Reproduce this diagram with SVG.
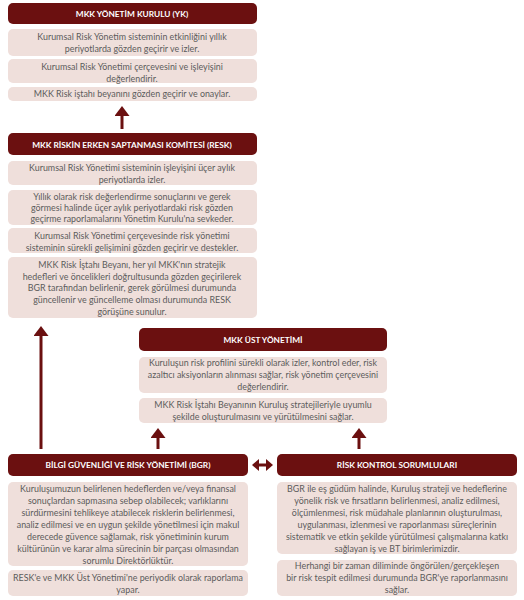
<svg xmlns="http://www.w3.org/2000/svg" width="524" height="600" viewBox="0 0 524 600">
<defs>
<style>
.hd{fill:#6b1010}
.bx{fill:#efdfdb}
.ht{font-family:Lato,"Open Sans",sans-serif;font-weight:bold;font-size:8.3px;fill:#ffffff;text-anchor:middle}
.bt{font-family:Lato,"Open Sans",sans-serif;font-size:8.9px;fill:#5c5c5c;text-anchor:middle}
.cn{stroke:#6b1010;stroke-width:3;fill:none}
</style>
<marker id="ah" markerUnits="userSpaceOnUse" viewBox="0 0 10 15" refX="0" refY="7.5" markerWidth="10" markerHeight="15" orient="auto"><path d="M0,0 L10,7.5 L0,15 z" fill="#6b1010"/></marker>
<marker id="ah2" markerUnits="userSpaceOnUse" viewBox="0 0 7 12" refX="0" refY="6" markerWidth="7" markerHeight="12" orient="auto-start-reverse"><path d="M0,0 L7,6 L0,12 z" fill="#6b1010"/></marker>
</defs>
<rect width="524" height="600" fill="#ffffff"/>

<g id="yk">
<g id="yk-head"><rect class="hd" x="8" y="3" width="249" height="21" rx="5"/><text class="ht" x="132" y="17">MKK YÖNETİM KURULU (YK)</text></g>
<g id="yk-b1"><rect class="bx" x="8" y="29" width="249" height="27" rx="5"/><text class="bt" x="132" y="40"><tspan x="132">Kurumsal Risk Yönetim sisteminin etkinliğini yıllık</tspan><tspan x="132" dy="12">periyotlarda gözden geçirir ve izler.</tspan></text></g>
<g id="yk-b2"><rect class="bx" x="8" y="59" width="249" height="24" rx="5"/><text class="bt" x="132" y="70"><tspan x="132">Kurumsal Risk Yönetimi çerçevesini ve işleyişini</tspan><tspan x="132" dy="12">değerlendirir.</tspan></text></g>
<g id="yk-b3"><rect class="bx" x="8" y="87" width="249" height="14" rx="5"/><text class="bt" x="132" y="97">MKK Risk iştahı beyanını gözden geçirir ve onaylar.</text></g>
</g>

<g id="resk">
<g id="resk-head"><rect class="hd" x="8" y="133" width="249" height="22" rx="5"/><text class="ht" x="132" y="147.5">MKK RİSKİN ERKEN SAPTANMASI KOMİTESİ (RESK)</text></g>
<g id="resk-b1"><rect class="bx" x="8" y="161" width="249" height="24" rx="5"/><text class="bt" x="132" y="171"><tspan x="132">Kurumsal Risk Yönetimi sisteminin işleyişini üçer aylık</tspan><tspan x="132" dy="12">periyotlarda izler.</tspan></text></g>
<g id="resk-b2"><rect class="bx" x="8" y="190" width="249" height="35" rx="5"/><text class="bt" x="132" y="200"><tspan x="132">Yıllık olarak risk değerlendirme sonuçlarını ve gerek</tspan><tspan x="132" dy="11">görmesi halinde üçer aylık periyotlardaki risk gözden</tspan><tspan x="132" dy="11">geçirme raporlamalarını Yönetim Kurulu'na sevkeder.</tspan></text></g>
<g id="resk-b3"><rect class="bx" x="8" y="228" width="249" height="25" rx="5"/><text class="bt" x="132" y="239"><tspan x="132">Kurumsal Risk Yönetimi çerçevesinde risk yönetimi</tspan><tspan x="132" dy="11.5">sisteminin sürekli gelişimini gözden geçirir ve destekler.</tspan></text></g>
<g id="resk-b4"><rect class="bx" x="8" y="257" width="249" height="61" rx="5"/><text class="bt" x="132" y="268"><tspan x="132">MKK Risk İştahı Beyanı, her yıl MKK'nın stratejik</tspan><tspan x="132" dy="11.7">hedefleri ve öncelikleri doğrultusunda gözden geçirilerek</tspan><tspan x="132" dy="11.7">BGR tarafından belirlenir, gerek görülmesi durumunda</tspan><tspan x="132" dy="11.7">güncellenir ve güncelleme olması durumunda RESK</tspan><tspan x="132" dy="11.7">görüşüne sunulur.</tspan></text></g>
</g>

<g id="ust">
<g id="ust-head"><rect class="hd" x="139" y="328" width="248" height="23" rx="5"/><text class="ht" x="263" y="342.5">MKK ÜST YÖNETİMİ</text></g>
<g id="ust-b1"><rect class="bx" x="139" y="357" width="248" height="36" rx="5"/><text class="bt" x="263" y="366"><tspan x="263">Kuruluşun risk profilini sürekli olarak izler, kontrol eder, risk</tspan><tspan x="263" dy="12">azaltıcı aksiyonların alınması sağlar, risk yönetim çerçevesini</tspan><tspan x="263" dy="12">değerlendirir.</tspan></text></g>
<g id="ust-b2"><rect class="bx" x="139" y="398" width="248" height="25" rx="5"/><text class="bt" x="263" y="408"><tspan x="263">MKK Risk İştahı Beyanının Kuruluş stratejileriyle uyumlu</tspan><tspan x="263" dy="12">şekilde oluşturulmasını ve yürütülmesini sağlar.</tspan></text></g>
</g>

<g id="bgr">
<g id="bgr-head"><rect class="hd" x="8" y="454" width="240" height="22" rx="5"/><text class="ht" x="128" y="468">BİLGİ GÜVENLİĞİ VE RİSK YÖNETİMİ (BGR)</text></g>
<g id="bgr-b1"><rect class="bx" x="8" y="482" width="240" height="84" rx="5"/><text class="bt" x="128" y="492"><tspan x="128">Kuruluşumuzun belirlenen hedeflerden ve/veya finansal</tspan><tspan x="128" dy="12">sonuçlardan sapmasına sebep olabilecek; varlıklarını</tspan><tspan x="128" dy="12">sürdürmesini tehlikeye atabilecek risklerin belirlenmesi,</tspan><tspan x="128" dy="12">analiz edilmesi ve en uygun şekilde yönetilmesi için makul</tspan><tspan x="128" dy="12">derecede güvence sağlamak, risk yönetiminin kurum</tspan><tspan x="128" dy="12">kültürünün ve karar alma sürecinin bir parçası olmasından</tspan><tspan x="128" dy="12">sorumlu Direktörlüktür.</tspan></text></g>
<g id="bgr-b2"><rect class="bx" x="8" y="570" width="240" height="26" rx="5"/><text class="bt" x="128" y="581"><tspan x="128">RESK'e ve MKK Üst Yönetimi'ne periyodik olarak raporlama</tspan><tspan x="128" dy="12">yapar.</tspan></text></g>
</g>

<g id="rks">
<g id="rks-head"><rect class="hd" x="277" y="454" width="240" height="22" rx="5"/><text class="ht" x="397" y="468">RİSK KONTROL SORUMLULARI</text></g>
<g id="rks-b1"><rect class="bx" x="277" y="482" width="240" height="72" rx="5"/><text class="bt" x="397" y="492"><tspan x="397">BGR ile eş güdüm halinde, Kuruluş strateji ve hedeflerine</tspan><tspan x="397" dy="12">yönelik risk ve fırsatların belirlenmesi, analiz edilmesi,</tspan><tspan x="397" dy="12">ölçümlenmesi, risk müdahale planlarının oluşturulması,</tspan><tspan x="397" dy="12">uygulanması, izlenmesi ve raporlanması süreçlerinin</tspan><tspan x="397" dy="12">sistematik ve etkin şekilde yürütülmesi çalışmalarına katkı</tspan><tspan x="397" dy="12">sağlayan iş ve BT birimlerimizdir.</tspan></text></g>
<g id="rks-b2"><rect class="bx" x="277" y="560" width="240" height="36" rx="5"/><text class="bt" x="397" y="569"><tspan x="397">Herhangi bir zaman diliminde öngörülen/gerçekleşen</tspan><tspan x="397" dy="12">bir risk tespit edilmesi durumunda BGR'ye raporlanmasını</tspan><tspan x="397" dy="12">sağlar.</tspan></text></g>
</g>

<g id="connectors">
<path class="cn" d="M122,129 V116" marker-end="url(#ah)"/>
<path class="cn" d="M41,449 V336" marker-end="url(#ah)"/>
<path class="cn" d="M158,449 V438" marker-end="url(#ah)"/>
<path class="cn" d="M359,449 V438" marker-end="url(#ah)"/>
<path class="cn" d="M259,465 H266" marker-start="url(#ah2)" marker-end="url(#ah2)"/>
</g>
</svg>
